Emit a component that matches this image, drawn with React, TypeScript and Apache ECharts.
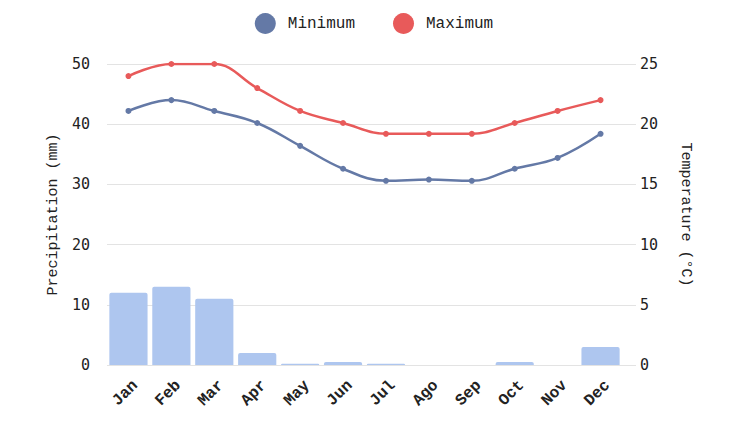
import React, { useEffect, useRef } from "react";
import * as echarts from "echarts";

const months = ["Jan", "Feb", "Mar", "Apr", "May", "Jun", "Jul", "Ago", "Sep", "Oct", "Nov", "Dec"];
const precipitation = [12, 13, 11, 2, 0.2, 0.5, 0.2, 0, 0, 0.5, 0, 3];
const tempMin = [21.1, 22, 21.1, 20.1, 18.2, 16.3, 15.3, 15.4, 15.3, 16.3, 17.2, 19.2];
const tempMax = [24, 25, 25, 23, 21.1, 20.1, 19.2, 19.2, 19.2, 20.1, 21.1, 22];

const MONO = "'Liberation Mono', 'DejaVu Sans Mono', monospace";
const NUM = "'DejaVu Sans Mono', monospace";

export default function App() {
  const ref = useRef<HTMLDivElement>(null);
  useEffect(() => {
    const chart = echarts.init(ref.current!, undefined, { renderer: "svg" });
    chart.setOption({
      animation: false,
      backgroundColor: "#ffffff",
      legend: {
        top: 0,
        left: "center",
        itemWidth: 21,
        itemHeight: 21,
        itemGap: 38,
        icon: "circle",
        textStyle: { fontFamily: MONO, fontSize: 16, color: "#222", padding: [0, 0, 0, 7] },
        data: ["Minimum", "Maximum"],
      },
      grid: { left: 99, right: 118, top: 56, bottom: 48 },
      xAxis: {
        type: "category",
        data: months,
        axisLine: { show: false },
        axisTick: { show: false },
        axisLabel: {
          rotate: 45,
          margin: 11,
          verticalAlign: "top",
          padding: [2, 0, 0, 0],
          fontFamily: MONO,
          fontSize: 16,
          fontWeight: "bold",
          color: "#222",
        },
      },
      yAxis: [
        {
          type: "value",
          min: 0,
          max: 50,
          interval: 10,
          name: "Precipitation (mm)",
          nameLocation: "middle",
          nameGap: 46,
          nameTextStyle: { fontFamily: MONO, fontSize: 15, color: "#222" },
          axisLabel: { fontFamily: NUM, fontSize: 15, color: "#222", margin: 17 },
          splitLine: { lineStyle: { color: "#e3e3e3" } },
          axisLine: { show: false },
          axisTick: { show: false },
        },
        {
          type: "value",
          min: 0,
          max: 25,
          interval: 5,
          name: "Temperature (°C)",
          nameLocation: "middle",
          nameGap: 56,
          nameRotate: -90,
          nameTextStyle: { fontFamily: MONO, fontSize: 15, color: "#222" },
          axisLabel: { fontFamily: NUM, fontSize: 15, color: "#222", margin: 18 },
          splitLine: { show: false },
          axisLine: { show: false },
          axisTick: { show: true, length: 14, lineStyle: { color: "#e3e3e3" } },
        },
      ],
      series: [
        {
          name: "Precipitation",
          type: "bar",
          data: precipitation,
          yAxisIndex: 0,
          barCategoryGap: "11%",
          itemStyle: { color: "#aec6ef", borderRadius: [2, 2, 0, 0] },
        },
        {
          name: "Minimum",
          type: "line",
          data: tempMin,
          yAxisIndex: 1,
          smooth: 0.4,
          symbol: "circle",
          symbolSize: 6,
          lineStyle: { width: 2.5, color: "#6479a6" },
          itemStyle: { color: "#6479a6" },
        },
        {
          name: "Maximum",
          type: "line",
          data: tempMax,
          yAxisIndex: 1,
          smooth: 0.4,
          symbol: "circle",
          symbolSize: 6,
          lineStyle: { width: 2.5, color: "#e85a5a" },
          itemStyle: { color: "#e85a5a" },
        },
      ],
    });
    return () => chart.dispose();
  }, []);
  return <div ref={ref} style={{ width: 732, height: 405 }} />;
}
